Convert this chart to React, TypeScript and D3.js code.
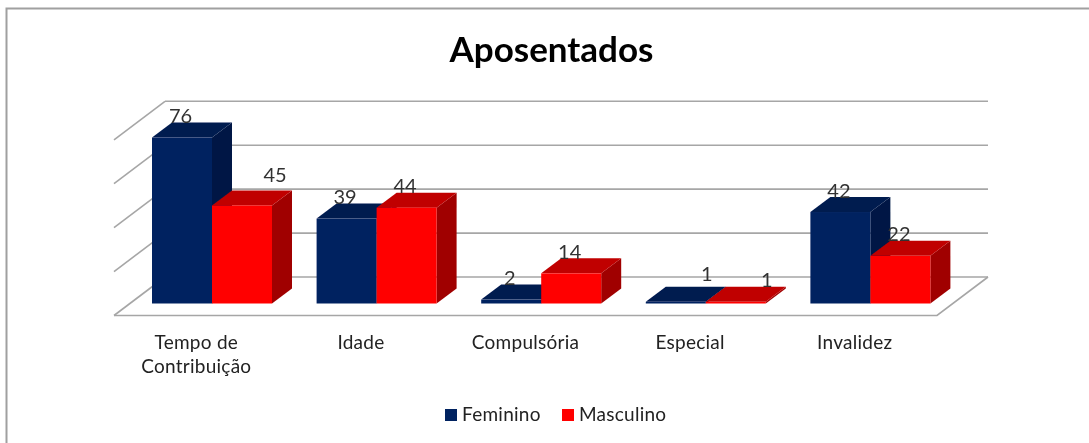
import React from "react";
import * as d3 from "d3";

const categories = ["Tempo de Contribuição", "Idade", "Compulsória", "Especial", "Invalidez"];
const categoryLines = [["Tempo de", "Contribuição"], ["Idade"], ["Compulsória"], ["Especial"], ["Invalidez"]];
const seriesNames = ["Feminino", "Masculino"];
const feminino = [76, 39, 2, 1, 42];
const masculino = [45, 44, 14, 1, 22];
const gridValues = [0, 20, 40, 60, 80];

const W = 1089, H = 443;
const DX = 51, DY = -38.5;
const BAR_DX = 20, BAR_DY = -15;
const BASE = 303.5;
const FONT = "Lato, 'Open Sans', sans-serif";
const palette = [
  { front: "#002060", top: "#001a50", side: "#001745" },
  { front: "#ff0000", top: "#c00000", side: "#a00000" },
];

const x = d3.scaleBand<string>().domain(categories).range([114, 937]).padding(0);
const inner = d3.scaleBand<string>().domain(seriesNames).range([38, 158]).padding(0);
const y = d3.scaleLinear().domain([0, 100]).range([304, 85]);
const yBack = d3.scaleLinear().domain([0, 80]).range([277, 101.3]);
const poly = (pts: [number, number][]) => pts.map((p) => p.join(",")).join(" ");

function labelOffset(s: number, i: number): [number, number] {
  if (s === 1 && i === 0) return [33, -23];
  if (s === 0 && i === 3) return [31, -20.5];
  if (s === 1 && i === 3) return [31, -14.5];
  return [-1.5, -14.5];
}

export default function App() {
  const data = [feminino, masculino];
  return (
    <svg width={W} height={H} viewBox={`0 0 ${W} ${H}`}
      style={{ position: "fixed", left: 0, top: 0, display: "block", background: "#fff" }}>
      <defs>
        <filter id="soft" x="-2%" y="-2%" width="104%" height="104%">
          <feGaussianBlur stdDeviation="0.45" />
        </filter>
      </defs>
      <g filter="url(#soft)">
        <path d={`M6.5 ${H}V8.5H${W}`} fill="none" stroke="#a0a0a0" strokeWidth={2} />
        <text x={551.5} y={62} textAnchor="middle" fontFamily={FONT} fontWeight={700} fontSize={35} fill="#000">Aposentados</text>

        {/* walls and floor */}
        {gridValues.map((v) => {
          const yy = yBack(v);
          return (
            <g key={v} stroke="#a6a6a6" strokeWidth={1.6} fill="none">
              <line x1={114} y1={yy - DY} x2={114 + DX} y2={yy} />
              <line x1={114 + DX} y1={yy} x2={988} y2={yy} />
            </g>
          );
        })}
        <polyline points={poly([[114, 315.5], [937, 315.5], [988, 277]])} fill="none" stroke="#a6a6a6" strokeWidth={1.6} />

        {/* bars */}
        {categories.map((c, i) => (
          <g key={c}>
            {seriesNames.map((s, si) => {
              const x0 = x(c)! + inner(s)!;
              const x1 = x0 + inner.bandwidth();
              const yt = y(data[si][i]);
              const yb = BASE;
              const col = palette[si];
              return (
                <g key={s}>
                  <polygon fill={col.side} points={poly([[x1, yt], [x1 + BAR_DX, yt + BAR_DY], [x1 + BAR_DX, yb + BAR_DY], [x1, yb]])} />
                  <polygon fill={col.top} points={poly([[x0, yt], [x0 + BAR_DX, yt + BAR_DY], [x1 + BAR_DX, yt + BAR_DY], [x1, yt]])} />
                  <rect x={x0} y={yt} width={x1 - x0} height={yb - yt} fill={col.front} />
                </g>
              );
            })}
          </g>
        ))}

        {/* data labels */}
        {categories.map((c, i) =>
          seriesNames.map((s, si) => {
            const [dx, dy] = labelOffset(si, i);
            return (
              <text key={c + s} x={x(c)! + inner(s)! + inner.bandwidth() / 2 + dx} y={y(data[si][i]) + dy}
                textAnchor="middle" fontFamily={FONT} fontSize={20} fill="#333">
                {data[si][i]}
              </text>
            );
          })
        )}

        {/* category labels */}
        {categories.map((c, i) => (
          <text key={c} textAnchor="middle" fontFamily={FONT} fontSize={19} letterSpacing={0.25} fill="#222">
            {categoryLines[i].map((t, li) => (
              <tspan key={t} x={x(c)! + x.bandwidth() / 2} y={349 + li * 24}>{t}</tspan>
            ))}
          </text>
        ))}

        {/* legend */}
        {seriesNames.map((s, si) => (
          <g key={s}>
            <rect x={si ? 562 : 445} y={409} width={12} height={12} fill={palette[si].front} />
            <text x={si ? 579 : 462} y={421} fontFamily={FONT} fontSize={19} letterSpacing={0.25} fill="#222">{s}</text>
          </g>
        ))}
      </g>
    </svg>
  );
}
